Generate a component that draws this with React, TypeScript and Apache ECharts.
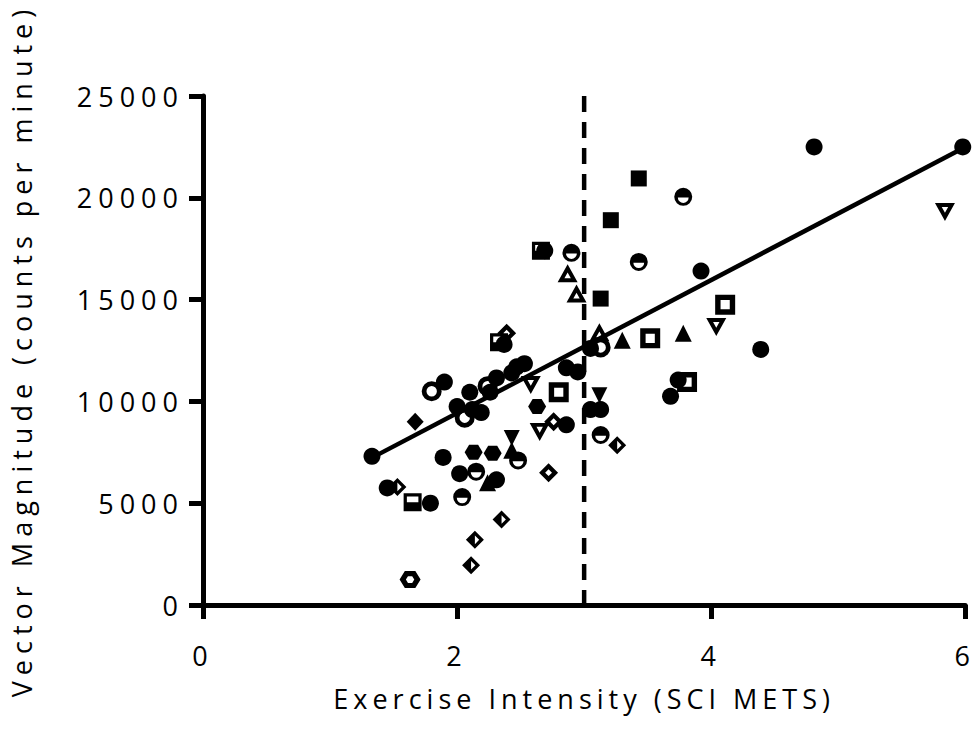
import React, { useEffect, useRef } from "react";
import * as echarts from "echarts";

const xTicks = [0, 2, 4, 6];
const yTicks = [0, 5000, 10000, 15000, 20000, 25000];
const xName = "Exercise Intensity (SCI METS)";
const yName = "Vector Magnitude (counts per minute)";

const filledCircles = [[1.33,7300],[1.45,5750],[1.79,5000],[1.90,10950],[1.89,7250],[2.02,6450],[2.00,9750],[2.10,10450],[2.12,9600],[2.19,9450],[2.26,10450],[2.31,11150],[2.31,6150],[2.37,12800],[2.43,11400],[2.47,11700],[2.53,11850],[2.69,17400],[2.86,11650],[2.86,8850],[2.95,11450],[3.05,9600],[3.13,9600],[3.92,16400],[3.74,11050],[3.68,10250],[4.39,12550],[4.81,22500],[5.98,22500],[3.05,12600]];
const halfCircles = [[2.04,5300],[2.15,6550],[2.48,7100],[2.90,17300],[3.43,16850],[3.78,20050],[3.13,8350]];
const openCircles = [[1.80,10500],[2.06,9200],[2.24,10750],[3.13,12650]];
const openHexagons = [[1.63,1250]];
const filledHexagons = [[2.13,7500],[2.28,7450],[2.63,9750]];
const filledDiamonds = [[1.67,9000]];
const halfDiamonds = [[1.53,5800],[2.35,4200],[2.14,3200],[2.11,1950],[3.26,7850]];
const openDiamonds = [[2.39,13350],[2.72,6500],[2.76,9000]];
const halfSquares = [[1.65,5050],[2.33,12900],[2.66,17400]];
const filledSquares = [[3.43,20950],[3.21,18900],[3.13,15050]];
const openSquares = [[2.80,10450],[3.52,13100],[4.11,14750],[3.81,10950]];
const filledTriangles = [[3.30,13000],[3.78,13350],[2.24,6000],[2.43,7600]];
const openTriangles = [[3.12,13400],[2.87,16300],[2.94,15300]];
const openInvTriangles = [[2.58,10800],[2.65,8500],[4.04,13650],[5.84,19300]];
const filledInvTriangles = [[2.43,8200],[3.12,10300]];

const regX = [1.35, 6];
const regY = [7300, 22500];
const cutX = 3;

const P = {
  openCircle: "path://M0,50 A50,50 0 1 1 100,50 A50,50 0 1 1 0,50 Z M24,50 A26,26 0 1 0 76,50 A26,26 0 1 0 24,50 Z",
  halfCircle: "path://M0,50 A50,50 0 1 1 100,50 A50,50 0 1 1 0,50 Z M20,54 A30,30 0 0 0 80,54 Z",
  openSquare: "path://M0,0 L100,0 L100,100 L0,100 Z M27,27 L27,73 L73,73 L73,27 Z",
  halfSquare: "path://M0,0 L100,0 L100,100 L0,100 Z M18,18 L18,50 L82,50 L82,18 Z",
  openTriangle: "path://M50,0 L100,87 L0,87 Z M50,40 L34,68 L66,68 Z",
  openInvTriangle: "path://M0,0 L100,0 L50,87 Z M34,19 L50,47 L66,19 Z",
  openDiamond: "path://M50,0 L100,50 L50,100 L0,50 Z M50,32 L32,50 L50,68 L68,50 Z",
  halfDiamond: "path://M50,0 L100,50 L50,100 L0,50 Z M50,26 L50,74 L74,50 Z",
  hexagon: "path://M25,0 L75,0 L100,50 L75,100 L25,100 L0,50 Z",
  openHexagon: "path://M25,0 L75,0 L100,50 L75,100 L25,100 L0,50 Z M40,30 L30,50 L40,70 L60,70 L70,50 L60,30 Z",
};

function scatter(name: string, data: number[][], symbol: string, size: any, rotate = 0) {
  return {
    name,
    type: "scatter",
    data,
    symbol,
    symbolSize: size,
    symbolRotate: rotate,
    itemStyle: { color: "#000", opacity: 1 },
    z: 5,
  };
}

export default function App() {
  const ref = useRef<HTMLDivElement>(null);
  useEffect(() => {
    const el = ref.current!;
    const chart = echarts.init(el, null, { renderer: "svg" });
    const font = "'Open Sans', sans-serif";
    chart.setOption({
      animation: false,
      backgroundColor: "#fff",
      grid: { left: 202, right: 8, top: 96, bottom: 126 },
      xAxis: {
        type: "value",
        min: xTicks[0],
        max: xTicks[xTicks.length - 1],
        interval: 2,
        name: xName,
        nameLocation: "middle",
        nameGap: 80,
        nameTextStyle: { fontFamily: font, fontSize: 27, color: "#000" },
        splitLine: { show: false },
        axisLine: { show: true, onZero: false, lineStyle: { color: "#000", width: 5 } },
        axisTick: { show: true, inside: false, length: 14, lineStyle: { color: "#000", width: 5 } },
        axisLabel: { fontFamily: font, fontSize: 27, color: "#000", margin: 37, formatter: (v: number) => String(v) },
      },
      yAxis: {
        type: "value",
        min: yTicks[0],
        max: yTicks[yTicks.length - 1],
        interval: 5000,
        name: yName,
        nameLocation: "middle",
        nameGap: 168,
        nameTextStyle: { fontFamily: font, fontSize: 27, color: "#000" },
        splitLine: { show: false },
        axisLine: { show: true, onZero: false, lineStyle: { color: "#000", width: 5 } },
        axisTick: { show: true, inside: false, length: 14, lineStyle: { color: "#000", width: 5 } },
        axisLabel: { fontFamily: font, fontSize: 27, color: "#000", margin: 19, formatter: (v: number) => String(v) },
      },
      series: [
        {
          type: "line",
          data: [[cutX, yTicks[yTicks.length - 1]], [cutX, yTicks[0]]],
          symbol: "none",
          lineStyle: { color: "#000", width: 4.5, type: [16, 10] },
          z: 2,
          silent: true,
        },
        {
          type: "line",
          data: regX.map((x, i) => [x, regY[i]]),
          symbol: "none",
          lineStyle: { color: "#000", width: 4.5 },
          z: 3,
          silent: true,
        },
        scatter("filledCircles", filledCircles, "circle", 17),
        scatter("halfCircles", halfCircles, P.halfCircle, 18),
        scatter("openCircles", openCircles, P.openCircle, 20),
        scatter("openHexagons", openHexagons, P.openHexagon, [21, 17]),
        scatter("filledHexagons", filledHexagons, P.hexagon, [18, 15]),
        scatter("filledDiamonds", filledDiamonds, "diamond", [17, 18]),
        scatter("halfDiamonds", halfDiamonds, P.halfDiamond, 18),
        scatter("openDiamonds", openDiamonds, P.openDiamond, 19),
        scatter("halfSquares", halfSquares, P.halfSquare, 18),
        scatter("filledSquares", filledSquares, "rect", 16),
        scatter("openSquares", openSquares, P.openSquare, 20),
        scatter("filledTriangles", filledTriangles, "triangle", 17),
        scatter("openTriangles", openTriangles, P.openTriangle, [20, 18]),
        scatter("openInvTriangles", openInvTriangles, P.openInvTriangle, [20, 18]),
        scatter("filledInvTriangles", filledInvTriangles, "triangle", 16, 180),
      ],
    });
    const applySpacing = () => {
      el.querySelectorAll("text").forEach((t) => {
        const s = t.textContent || "";
        (t as SVGTextElement).style.letterSpacing = s === xName ? "5px" : s === yName ? "6px" : "6px";
      });
    };
    applySpacing();
    chart.on("finished", applySpacing);
    const t1 = setTimeout(applySpacing, 0);
    const t2 = setTimeout(applySpacing, 100);
    return () => {
      clearTimeout(t1);
      clearTimeout(t2);
      chart.dispose();
    };
  }, []);
  return (
    <div
      ref={ref}
      style={{ position: "fixed", left: 0, top: 0, width: 976, height: 731, background: "#fff" }}
    />
  );
}
